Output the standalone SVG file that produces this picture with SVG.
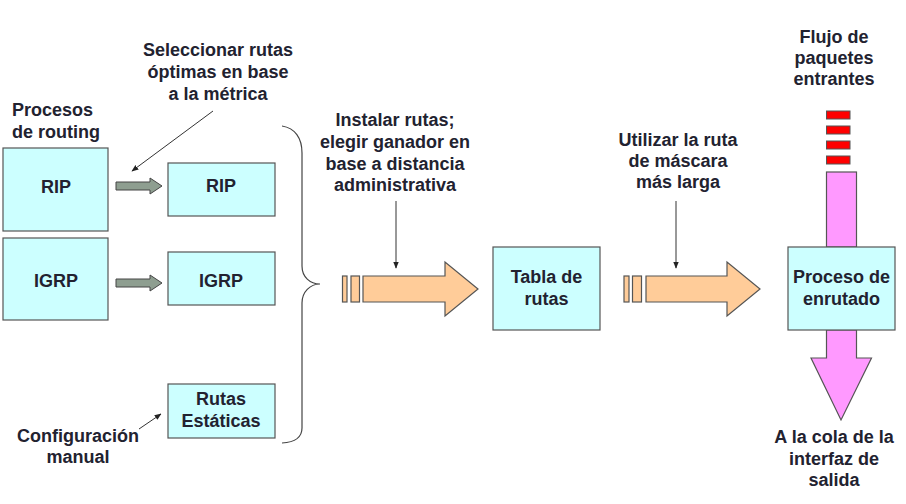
<svg xmlns="http://www.w3.org/2000/svg" width="906" height="504" viewBox="0 0 906 504">
<defs>
<style>
text{font-family:"Liberation Sans",Arial,sans-serif;font-weight:bold;font-size:18px;fill:#222230;text-anchor:middle}
.box{fill:#CCFFFF;stroke:#555;stroke-width:1.2}
.orange{fill:#FFCC99;stroke:#555;stroke-width:1.2}
.grey{fill:#8E9E90;stroke:#444;stroke-width:1}
.pink{fill:#FF99FF;stroke:#555;stroke-width:1.2}
.red{fill:#FF0000;stroke:#555;stroke-width:1}
.ptr{stroke:#333;stroke-width:1;fill:none;marker-end:url(#ah)}
</style>
<marker id="ah" viewBox="0 0 10 10" refX="9" refY="5" markerWidth="7" markerHeight="7" orient="auto" markerUnits="userSpaceOnUse"><path d="M0,1 L10,5 L0,9 z" fill="#222"/></marker>
</defs>
<rect width="906" height="504" fill="#fff"/>

<g id="labels">
<text x="218" y="56">Seleccionar rutas</text>
<text x="218" y="78">óptimas en base</text>
<text x="218" y="100">a la métrica</text>
<text x="12" y="116" style="text-anchor:start">Procesos</text>
<text x="12" y="138" style="text-anchor:start">de routing</text>
<text x="78" y="442">Configuración</text>
<text x="78" y="463">manual</text>
<text x="395" y="126">Instalar rutas;</text>
<text x="395" y="148">elegir ganador en</text>
<text x="395" y="170">base a distancia</text>
<text x="395" y="191">administrativa</text>
<text x="678" y="146">Utilizar la ruta</text>
<text x="678" y="167">de máscara</text>
<text x="678" y="188">más larga</text>
<text x="834" y="43">Flujo de</text>
<text x="834" y="64">paquetes</text>
<text x="834" y="85">entrantes</text>
<text x="834" y="443">A la cola de la</text>
<text x="834" y="465">interfaz de</text>
<text x="834" y="486">salida</text>
</g>

<g id="connectors">
<path class="ptr" d="M213,111 L132,171"/>
<path class="ptr" d="M139,429 L161,414"/>
<path class="ptr" d="M396,201 L396,268"/>
<path class="ptr" d="M676,201 L676,268"/>
<path d="M282,126 C295,128 302,138 302,153 L302,266 C302,277 310,284 320,284 C310,284 302,292 302,303 L302,428 C302,438 295,442 282,443" fill="none" stroke="#444" stroke-width="1.2"/>
<polygon class="grey" points="116,182 150,182 150,178 162,186 150,194 150,190 116,190"/>
<polygon class="grey" points="116,279 150,279 150,275 162,283 150,291 150,287 116,287"/>
<g id="arrow-install">
<rect class="orange" x="342.5" y="276" width="4.5" height="26"/>
<rect class="orange" x="351" y="276" width="8.5" height="26"/>
<polygon class="orange" points="363,276 445,276 445,262 478,289 445,316 445,302 363,302"/>
</g>
<g id="arrow-lookup">
<rect class="orange" x="624" y="276" width="5" height="26"/>
<rect class="orange" x="632.5" y="276" width="9" height="26"/>
<polygon class="orange" points="646,276 727,276 727,262 760,289 727,316 727,302 646,302"/>
</g>
<g id="packets">
<rect class="red" x="826.5" y="111" width="23.5" height="8"/>
<rect class="red" x="826.5" y="126" width="23.5" height="8"/>
<rect class="red" x="826.5" y="141" width="23.5" height="8"/>
<rect class="red" x="826.5" y="156" width="23.5" height="8"/>
</g>
<rect class="pink" x="826.5" y="172" width="30" height="75"/>
<polygon class="pink" points="826.5,330 856.5,330 856.5,358 871.5,358 841,420 811,358 826.5,358"/>
</g>

<g id="rip-proc"><rect class="box" x="3" y="148" width="105" height="83"/><text x="56" y="193">RIP</text></g>
<g id="igrp-proc"><rect class="box" x="3" y="238" width="105" height="82"/><text x="56" y="287">IGRP</text></g>
<g id="rip-best"><rect class="box" x="168" y="163" width="107" height="53"/><text x="221" y="192">RIP</text></g>
<g id="igrp-best"><rect class="box" x="168" y="252" width="107" height="53"/><text x="221" y="287">IGRP</text></g>
<g id="static"><rect class="box" x="168" y="384" width="107" height="54"/><text x="221" y="405">Rutas</text><text x="221" y="427">Estáticas</text></g>
<g id="table"><rect class="box" x="493" y="247" width="107" height="83"/><text x="546.5" y="283">Tabla de</text><text x="546.5" y="305">rutas</text></g>
<g id="routing"><rect class="box" x="788" y="247" width="107" height="83"/><text x="841.5" y="283">Proceso de</text><text x="841.5" y="305">enrutado</text></g>
</svg>
